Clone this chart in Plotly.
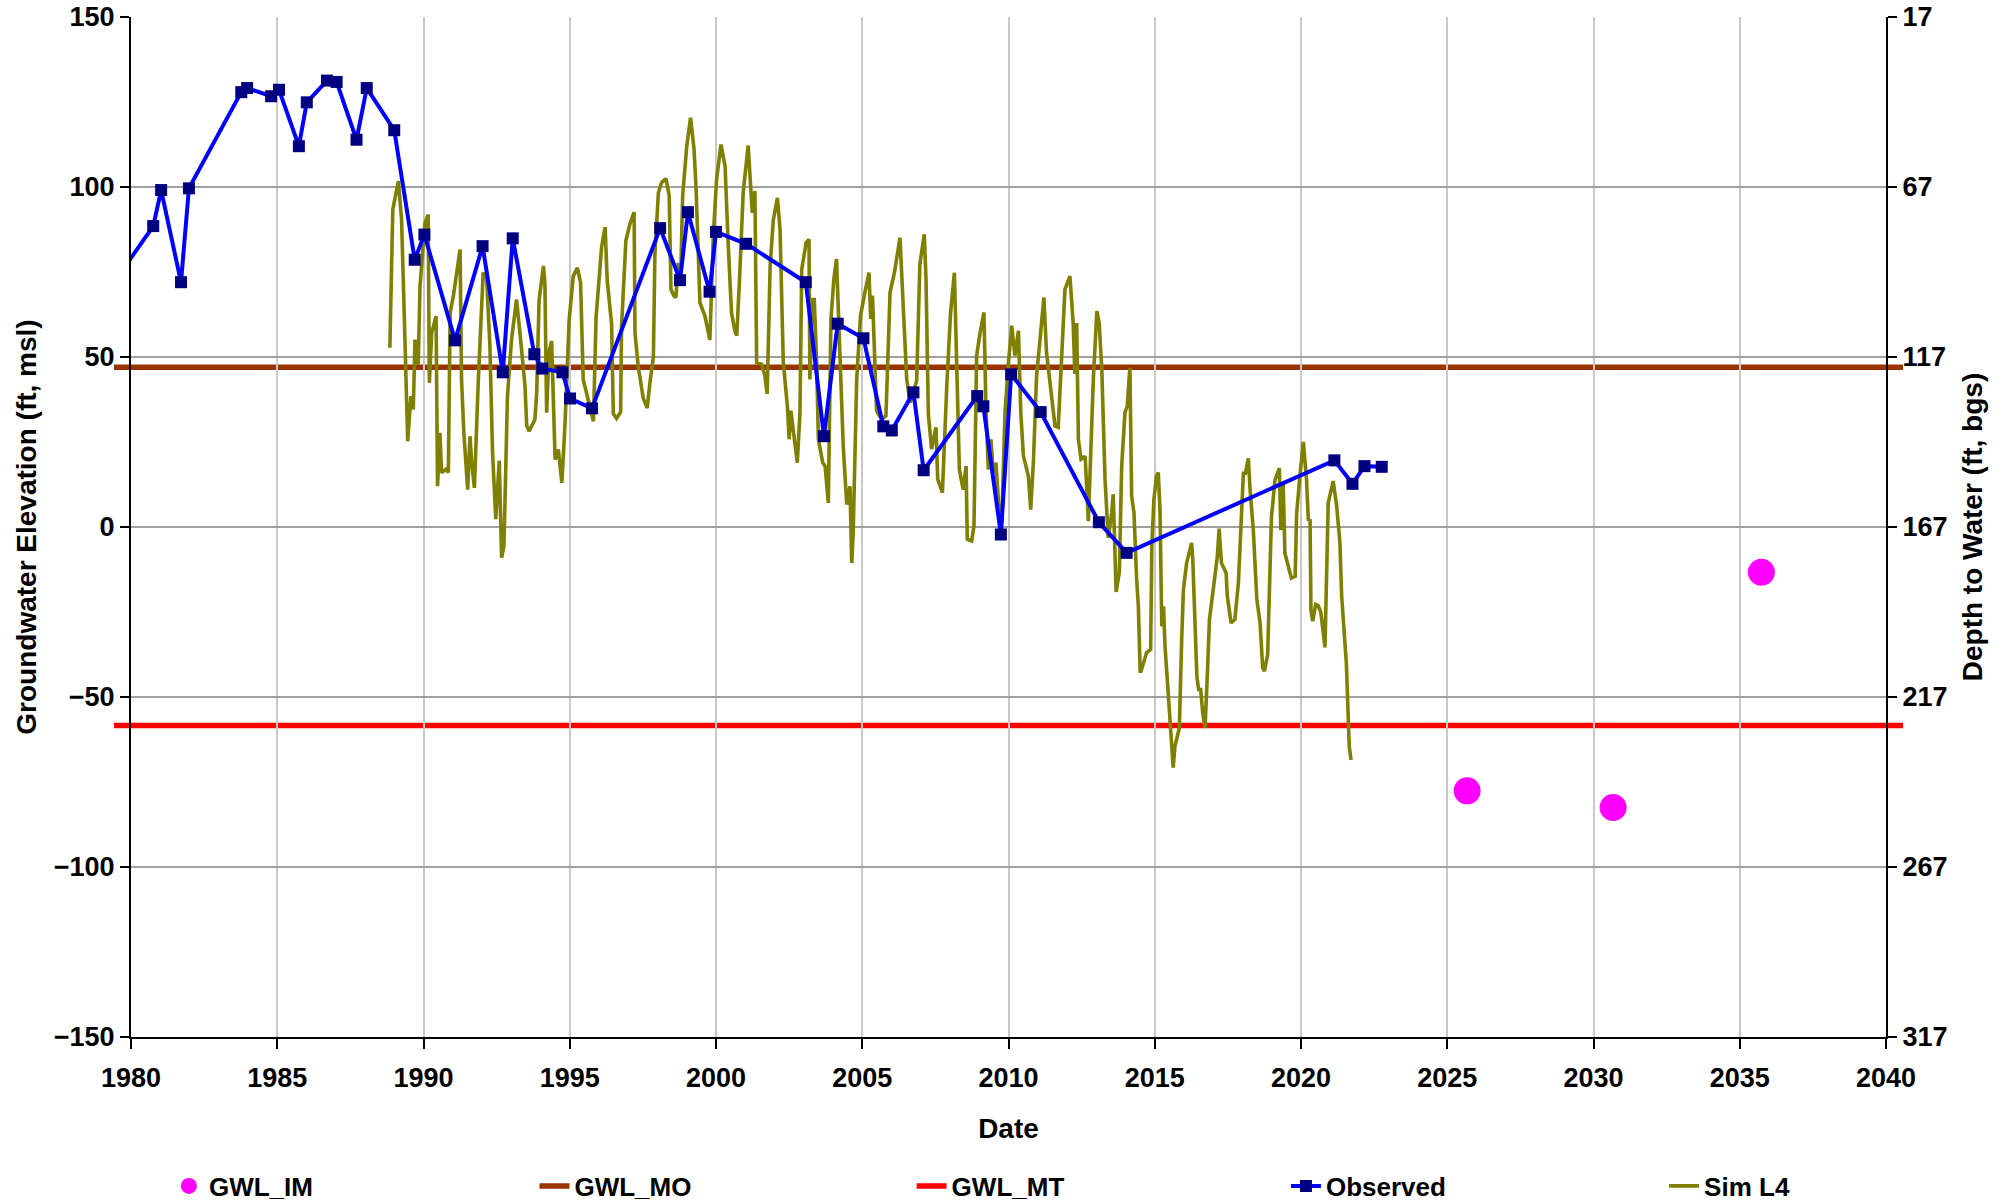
import plotly.graph_objects as go

# observed groundwater elevation (decimal year, ft msl)
obs_year = [1979.30, 1979.68, 1980.76, 1981.03, 1981.71, 1981.98, 1983.77, 1983.97, 1984.79,
            1985.06, 1985.74, 1986.01, 1986.70, 1987.03, 1987.71, 1988.06, 1989.00, 1989.70,
            1990.03, 1991.08, 1992.02, 1992.71, 1993.05, 1993.79, 1994.06, 1994.75, 1995.01,
            1995.76, 1998.09, 1998.77, 1999.04, 1999.78, 2000.00, 2001.03, 2003.07, 2003.69,
            2004.16, 2005.04, 2005.72, 2006.01, 2006.75, 2007.10, 2008.93, 2009.14, 2009.74,
            2010.09, 2011.10, 2013.09, 2014.04, 2021.14, 2021.76, 2022.17, 2022.76]
obs_elev = [87.0, 75.2, 88.5, 99.1, 72.0, 99.6, 127.9, 129.1, 126.7,
            128.6, 112.0, 124.9, 131.3, 130.9, 113.9, 129.1, 116.7, 78.6,
            86.0, 54.9, 82.6, 45.5, 84.9, 50.8, 46.6, 45.5, 37.8,
            34.9, 87.9, 72.6, 92.6, 69.2, 86.8, 83.3, 72.0, 26.7,
            59.8, 55.5, 29.6, 28.4, 39.6, 16.7, 38.5, 35.5, -2.2,
            44.9, 33.8, 1.4, -7.6, 19.6, 12.7, 17.9, 17.7]

# simulated (Sim L4)
sim_year = [1988.85, 1988.95, 1989.14, 1989.25, 1989.34, 1989.46, 1989.57, 1989.65, 1989.71, 1989.82,
            1989.88, 1990.05, 1990.16, 1990.20, 1990.28, 1990.43, 1990.48, 1990.56, 1990.62, 1990.77,
            1990.85, 1990.91, 1991.02, 1991.15, 1991.25, 1991.30, 1991.38, 1991.51, 1991.59, 1991.64,
            1991.74, 1991.87, 1992.04, 1992.16, 1992.27, 1992.36, 1992.47, 1992.59, 1992.67, 1992.75,
            1992.87, 1993.01, 1993.18, 1993.32, 1993.47, 1993.53, 1993.61, 1993.81, 1993.87, 1993.95,
            1994.10, 1994.15, 1994.21, 1994.29, 1994.38, 1994.50, 1994.61, 1994.73, 1994.84, 1994.98,
            1995.12, 1995.26, 1995.37, 1995.46, 1995.63, 1995.81, 1995.90, 1996.09, 1996.21, 1996.28,
            1996.43, 1996.49, 1996.60, 1996.74, 1996.77, 1996.92, 1997.06, 1997.20, 1997.23, 1997.34,
            1997.51, 1997.65, 1997.74, 1997.86, 1997.91, 1998.03, 1998.14, 1998.29, 1998.40, 1998.46,
            1998.56, 1998.63, 1998.71, 1998.79, 1998.86, 1999.00, 1999.13, 1999.25, 1999.32, 1999.40,
            1999.45, 1999.62, 1999.79, 1999.91, 2000.02, 2000.17, 2000.31, 2000.42, 2000.53, 2000.65,
            2000.71, 2000.81, 2000.93, 2001.10, 2001.21, 2001.24, 2001.33, 2001.39, 2001.56, 2001.67,
            2001.75, 2001.85, 2001.96, 2002.10, 2002.19, 2002.30, 2002.44, 2002.50, 2002.56, 2002.70,
            2002.78, 2002.87, 2002.93, 2003.08, 2003.18, 2003.21, 2003.29, 2003.36, 2003.44, 2003.50,
            2003.65, 2003.73, 2003.84, 2003.93, 2004.03, 2004.12, 2004.24, 2004.35, 2004.47, 2004.58,
            2004.64, 2004.69, 2004.81, 2004.94, 2005.09, 2005.23, 2005.29, 2005.35, 2005.43, 2005.49,
            2005.66, 2005.81, 2005.95, 2006.10, 2006.29, 2006.37, 2006.52, 2006.64, 2006.86, 2006.97,
            2007.12, 2007.18, 2007.26, 2007.37, 2007.52, 2007.58, 2007.74, 2007.89, 2008.02, 2008.15,
            2008.23, 2008.32, 2008.45, 2008.55, 2008.59, 2008.74, 2008.82, 2008.91, 2009.03, 2009.16,
            2009.23, 2009.31, 2009.40, 2009.48, 2009.57, 2009.69, 2009.77, 2009.88, 2010.00, 2010.11,
            2010.22, 2010.34, 2010.42, 2010.51, 2010.68, 2010.76, 2010.85, 2010.96, 2011.10, 2011.21,
            2011.30, 2011.47, 2011.59, 2011.70, 2011.93, 2012.10, 2012.21, 2012.27, 2012.33, 2012.39,
            2012.48, 2012.62, 2012.73, 2012.90, 2013.02, 2013.10, 2013.19, 2013.30, 2013.41, 2013.53,
            2013.58, 2013.68, 2013.79, 2013.87, 2013.98, 2014.06, 2014.15, 2014.21, 2014.29, 2014.38,
            2014.44, 2014.50, 2014.53, 2014.72, 2014.86, 2014.90, 2014.97, 2015.06, 2015.12, 2015.18,
            2015.24, 2015.30, 2015.35, 2015.46, 2015.54, 2015.63, 2015.69, 2015.84, 2015.92, 2015.98,
            2016.09, 2016.26, 2016.30, 2016.38, 2016.44, 2016.50, 2016.57, 2016.64, 2016.72, 2016.80,
            2016.87, 2017.00, 2017.14, 2017.20, 2017.28, 2017.44, 2017.48, 2017.61, 2017.74, 2017.86,
            2018.03, 2018.10, 2018.20, 2018.26, 2018.37, 2018.49, 2018.60, 2018.69, 2018.75, 2018.86,
            2018.92, 2018.99, 2019.11, 2019.26, 2019.31, 2019.39, 2019.45, 2019.60, 2019.67, 2019.80,
            2019.85, 2019.97, 2020.08, 2020.19, 2020.25, 2020.31, 2020.34, 2020.40, 2020.50, 2020.59,
            2020.68, 2020.82, 2020.93, 2021.10, 2021.22, 2021.33, 2021.39, 2021.55, 2021.61, 2021.65,
            2021.71]
sim_elev = [52.7, 93.4, 101.7, 90.4, 63.0, 25.2, 38.5, 34.6, 55.1, 47.8,
            70.8, 89.4, 91.9, 42.4, 57.1, 62.0, 12.0, 27.7, 16.0, 17.0,
            16.0, 63.0, 67.9, 75.7, 81.6, 43.4, 27.7, 11.0, 26.7, 19.8,
            11.5, 42.4, 74.8, 72.9, 53.3, 22.0, 2.3, 19.5, -9.0, -5.6,
            38.5, 55.1, 66.9, 55.1, 41.4, 29.7, 28.2, 31.6, 39.5, 66.5,
            76.8, 71.9, 33.6, 51.3, 54.7, 19.8, 22.8, 13.0, 30.6, 61.0,
            73.8, 76.2, 71.9, 43.4, 37.5, 31.1, 61.7, 82.4, 88.2, 72.5,
            59.8, 33.3, 31.9, 33.8, 58.8, 84.3, 89.2, 92.6, 57.1, 47.3,
            38.0, 35.0, 42.4, 50.0, 80.0, 98.3, 101.3, 102.5, 97.4, 69.9,
            68.0, 67.5, 77.7, 72.8, 97.4, 112.0, 120.4, 111.0, 99.3, 82.6,
            66.0, 62.1, 55.0, 86.0, 102.2, 112.5, 106.1, 82.6, 63.0, 57.5,
            56.3, 74.0, 98.5, 112.2, 95.0, 92.4, 98.8, 48.4, 47.9, 44.5,
            39.1, 76.7, 90.4, 96.8, 87.5, 48.4, 35.6, 25.8, 34.2, 24.8,
            18.9, 33.6, 75.7, 83.6, 84.6, 43.4, 66.9, 66.9, 48.4, 25.8,
            18.9, 17.9, 7.1, 61.2, 73.0, 78.8, 49.4, 23.8, 6.6, 12.0,
            -10.6, -1.8, 43.4, 62.1, 69.0, 74.8, 61.2, 68.1, 48.4, 34.2,
            31.7, 32.7, 69.0, 74.8, 85.1, 70.0, 43.4, 36.6, 43.0, 77.2,
            86.1, 72.9, 33.2, 22.9, 29.3, 14.1, 10.1, 41.5, 63.1, 74.8,
            43.4, 16.9, 11.0, 17.9, -3.6, -4.1, 0.3, 50.4, 57.2, 63.1,
            34.7, 16.9, 25.8, 16.0, 18.9, 3.2, 1.2, 33.6, 48.4, 59.2,
            50.4, 57.7, 33.6, 20.9, 15.0, 5.1, 18.9, 44.4, 57.2, 67.5,
            51.3, 37.6, 29.7, 29.3, 69.9, 73.8, 60.1, 45.0, 60.0, 25.7,
            19.9, 20.8, 1.7, 43.4, 63.5, 60.1, 46.4, 14.0, -3.2, 4.2,
            9.6, -19.1, -13.2, 18.0, 33.6, 35.6, 46.8, 9.1, 4.2, -15.2,
            -23.3, -42.4, -42.4, -37.0, -36.0, -5.6, 8.0, 15.0, 16.0, 5.0,
            -29.2, -23.3, -35.0, -48.8, -59.6, -70.8, -64.5, -59.1, -33.3, -18.4,
            -10.6, -4.7, -9.6, -31.1, -43.9, -47.8, -47.8, -54.7, -59.1, -43.0,
            -27.2, -18.4, -8.6, -0.5, -10.6, -13.5, -20.3, -28.2, -27.2, -16.4,
            15.8, 15.8, 20.2, 10.8, -0.9, -21.3, -28.2, -41.4, -42.4, -37.5,
            -15.4, 3.0, 13.8, 17.3, -0.9, 12.8, -7.7, -13.5, -15.0, -14.5,
            3.9, 15.6, 25.0, 13.8, 2.2, 2.0, -24.3, -27.7, -22.8, -23.2,
            -25.2, -35.4, 7.1, 13.5, 6.1, -4.6, -20.3, -40.0, -54.6, -64.5,
            -68.5]

# interim milestones and thresholds
im_year = [2025.68, 2030.67, 2035.74]
im_elev = [-77.6, -82.5, -13.3]
gwl_mo = 47.0
gwl_mt = -58.4
ground_surface = 167  # depth to water = ground_surface - elevation

x_ticks = list(range(1980, 2041, 5))
elev_ticks = list(range(-150, 151, 50))
depth_ticks = [ground_surface - v for v in elev_ticks]

FONT = "Arial, Liberation Sans, sans-serif"
tick_font = dict(family=FONT, size=27, color="black", weight="bold")
title_font = dict(family=FONT, size=28, color="black", weight="bold")
legend_font = dict(family=FONT, size=26, color="black", weight="bold")

fig = go.Figure()

fig.add_trace(go.Scatter(x=im_year, y=im_elev, mode="markers", name="GWL_IM",
                         marker=dict(color="#FF00FF", size=27, symbol="circle"),
                         legend="legend"))
# legend entries for the threshold lines (lines themselves drawn as shapes)
fig.add_trace(go.Scatter(x=[None], y=[None], mode="lines", name="GWL_MO",
                         line=dict(color="#993300", width=5.5), legend="legend2"))
fig.add_trace(go.Scatter(x=[None], y=[None], mode="lines", name="GWL_MT",
                         line=dict(color="#FF0000", width=5.5), legend="legend3"))
fig.add_trace(go.Scatter(x=sim_year, y=sim_elev, mode="lines", name="Sim L4",
                         line=dict(color="#808000", width=3.6), legend="legend5"))
fig.add_trace(go.Scatter(x=obs_year, y=obs_elev, mode="lines+markers", name="Observed",
                         line=dict(color="#0000FF", width=4),
                         marker=dict(color="#000080", size=12, symbol="square"),
                         legend="legend4"))
# invisible trace so the depth axis is drawn
fig.add_trace(go.Scatter(x=[None], y=[None], yaxis="y2", showlegend=False,
                         hoverinfo="skip"))

for val, col in [(gwl_mo, "#993300"), (gwl_mt, "#FF0000")]:
    fig.add_shape(type="line", xref="paper", yref="y", x0=-0.0097, x1=1.0097,
                  y0=val, y1=val, line=dict(color=col, width=5.5), layer="between")


def legend_at(x):
    return dict(orientation="h", xref="container", yref="container",
                x=x, y=0.0133, xanchor="left", yanchor="middle",
                font=legend_font, bgcolor="rgba(0,0,0,0)")


axis_common = dict(ticks="outside", tickwidth=2, tickcolor="black", showline=True,
                   linecolor="black", linewidth=2, zeroline=False, tickfont=tick_font,
                   automargin=False, ticklabeloverflow="allow")

fig.update_layout(
    width=2004, height=1202,
    margin=dict(l=131, r=118, t=17, b=165),
    plot_bgcolor="white", paper_bgcolor="white",
    showlegend=True,
    legend=legend_at(0.0843),
    legend2=legend_at(0.2667),
    legend3=legend_at(0.4549),
    legend4=legend_at(0.6417),
    legend5=legend_at(0.8304),
    xaxis=dict(range=[1980, 2040], tickvals=x_ticks, ticklen=10, ticklabelstandoff=6,
               showgrid=True, gridcolor="#C8C8C8", gridwidth=2,
               title=dict(text="Date", font=title_font, standoff=26), **axis_common),
    yaxis=dict(range=[-150, 150], tickvals=elev_ticks, ticklen=9,
               showgrid=True, gridcolor="#A0A0A0", gridwidth=2,
               title=dict(text="Groundwater Elevation (ft, msl)", font=title_font,
                          standoff=9), **axis_common),
    yaxis2=dict(range=[ground_surface + 150, ground_surface - 150], tickvals=depth_ticks,
                overlaying="y", side="right", ticklen=9, showgrid=False,
                title=dict(text="Depth to Water (ft, bgs)", font=title_font,
                           standoff=16), **axis_common),
)

# page body margin off so the figure fills the window from its top-left corner
fig.write_html("out.html", config={"displayModeBar": False},
               post_script="document.body.style.margin = '0';")
